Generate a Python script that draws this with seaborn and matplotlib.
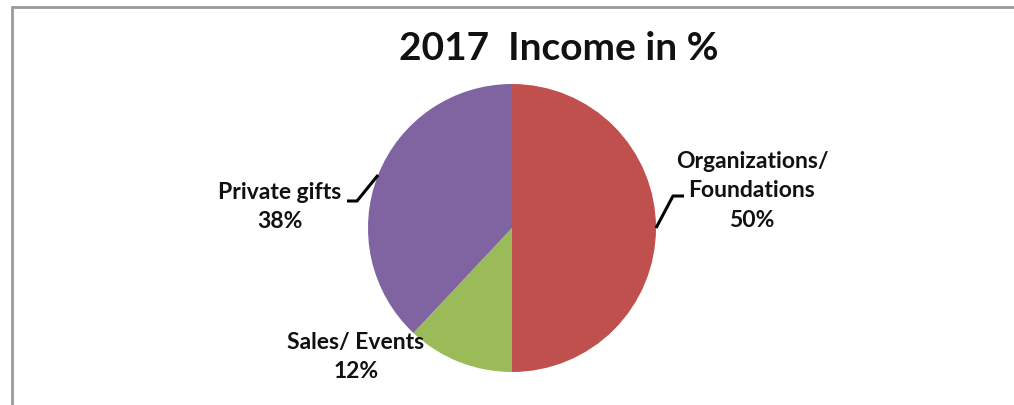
import numpy as np
import matplotlib.pyplot as plt
import seaborn as sns
from matplotlib.lines import Line2D

# Data
categories = ["Organizations/\nFoundations", "Sales/ Events", "Private gifts"]
shares = [50, 12, 38]
colors = ["#C0504D", "#9BBB59", "#8064A2"]

W, H = 1014, 406

sns.set_theme(style="white")
plt.rcParams["font.family"] = ["Lato", "DejaVu Sans"]


def py(y):
    # pixel row (from top) -> data y
    return H - y


fig = plt.figure(figsize=(W / 100, H / 100), dpi=100)
ax = fig.add_axes([0, 0, 1, 1])

cx, cy, r = 512, py(229), 144
wedges, _ = ax.pie(shares, colors=colors, startangle=90, counterclock=False,
                   center=(cx, cy), radius=r, wedgeprops=dict(linewidth=0))
ax.set_xlim(0, W)
ax.set_ylim(0, H)
ax.set_aspect("equal")
ax.axis("off")

# label centres and leader elbows (pixel layout)
label_pos = [(752, 191), (356, 357), (280, 207)]
elbows = [[(673, 197), (684, 197)], None, [(357, 202), (347, 202)]]

for wedge, cat, val, (lx, ly), elb in zip(wedges, categories, shares, label_pos, elbows):
    ax.text(lx, py(ly), f"{cat}\n{val}%", ha="center", va="center",
            fontsize=16.5, fontweight="bold", color="#111111", linespacing=1.5)
    if elb is not None:
        ang = np.deg2rad((wedge.theta1 + wedge.theta2) / 2)
        ex, ey = cx + r * np.cos(ang), cy + r * np.sin(ang)
        xs = [ex] + [p[0] for p in elb]
        ys = [ey] + [py(p[1]) for p in elb]
        ax.plot(xs, ys, color="black", lw=2.2, solid_capstyle="butt")

# Title
fig.text(559 / W, 1 - 49 / H, "2017  Income in %", ha="center", va="center",
         fontsize=28, fontweight="bold", color="#111111")

# chart frame (top and left edges visible)
fig.add_artist(Line2D([12 / W, 12 / W], [0, 1 - 8 / H], transform=fig.transFigure,
                      color="#9a9a9a", lw=2))
fig.add_artist(Line2D([12 / W, 1], [1 - 8 / H, 1 - 8 / H], transform=fig.transFigure,
                      color="#9a9a9a", lw=2))

fig.savefig("out.png", dpi=100)
